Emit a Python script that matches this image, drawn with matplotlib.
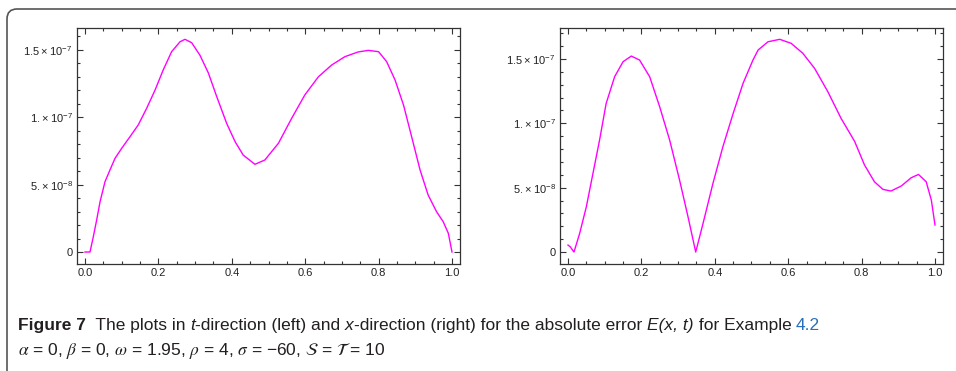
import numpy as np
import matplotlib.pyplot as plt
from matplotlib.patches import FancyBboxPatch
from matplotlib.transforms import IdentityTransform
from matplotlib.ticker import FixedLocator, FixedFormatter, MultipleLocator

# left panel: t-direction (values in units of 1e-7)
t_left = [0.0, 0.0136, 0.0227, 0.0318, 0.041, 0.0545, 0.068, 0.0817, 0.1, 0.1226,
          0.145, 0.168, 0.191, 0.213, 0.236, 0.259, 0.2725, 0.2906, 0.313, 0.336,
          0.359, 0.386, 0.409, 0.431, 0.463, 0.49, 0.527, 0.563, 0.599, 0.636,
          0.672, 0.708, 0.744, 0.772, 0.8, 0.822, 0.845, 0.868, 0.89, 0.913,
          0.935, 0.958, 0.976, 0.99, 1.0]
e_left = [0.0, 0.0, 0.114, 0.238, 0.373, 0.522, 0.609, 0.695, 0.77, 0.856,
          0.943, 1.067, 1.203, 1.351, 1.487, 1.561, 1.579, 1.554, 1.462, 1.33,
          1.153, 0.955, 0.819, 0.72, 0.651, 0.683, 0.807, 0.992, 1.166, 1.301,
          1.388, 1.45, 1.485, 1.497, 1.487, 1.413, 1.276, 1.09, 0.856, 0.609,
          0.423, 0.299, 0.225, 0.139, 0.0]

# right panel: x-direction (values in units of 1e-7)
x_right = [0.0, 0.006, 0.0163, 0.0318, 0.05, 0.068, 0.086, 0.104, 0.127, 0.15,
           0.1725, 0.195, 0.2226, 0.25, 0.277, 0.304, 0.327, 0.348, 0.368, 0.395,
           0.422, 0.45, 0.477, 0.504, 0.518, 0.545, 0.577, 0.608, 0.64, 0.672,
           0.708, 0.744, 0.781, 0.808, 0.835, 0.858, 0.88, 0.908, 0.935, 0.955,
           0.976, 0.99, 1.0]
e_right = [0.054, 0.041, 0.0, 0.145, 0.352, 0.611, 0.87, 1.155, 1.362, 1.479,
           1.523, 1.492, 1.362, 1.127, 0.87, 0.559, 0.274, 0.0, 0.223, 0.534,
           0.818, 1.077, 1.311, 1.492, 1.57, 1.634, 1.653, 1.622, 1.544, 1.427,
           1.246, 1.039, 0.86, 0.676, 0.546, 0.487, 0.474, 0.513, 0.577, 0.603,
           0.546, 0.404, 0.21]

y_ticks = [0.0, 0.5e-7, 1.0e-7, 1.5e-7]
y_labels = ["0", "5.\u2009\u00d7\u200910$^{-8}$", "1.\u2009\u00d7\u200910$^{-7}$",
            "1.5\u2009\u00d7\u200910$^{-7}$"]
x_ticks = [0.0, 0.2, 0.4, 0.6, 0.8, 1.0]
x_labels = ["0.0", "0.2", "0.4", "0.6", "0.8", "1.0"]

plt.rcParams['font.family'] = ['Liberation Sans', 'DejaVu Sans']
plt.rcParams['mathtext.fontset'] = 'custom'
plt.rcParams['mathtext.rm'] = 'Liberation Sans'
plt.rcParams['mathtext.it'] = 'Liberation Sans:italic'

fig = plt.figure(figsize=(9.56, 3.71), dpi=100)

# rounded frame around the figure block (pixel coords)
frame = FancyBboxPatch((7, -40), 1100, 371 - 9 + 40,
                       boxstyle="round,pad=0,rounding_size=10",
                       transform=IdentityTransform(), fill=False,
                       edgecolor="#555555", lw=1.2)
fig.patches.append(frame)

panels = [
    (77 / 956, t_left, e_left, (-0.089e-7, 1.663e-7)),
    (560 / 956, x_right, e_right, (-0.093e-7, 1.741e-7)),
]
for x0, xs, ys, ylim in panels:
    ax = fig.add_axes([x0, 107 / 371, 383 / 956, 236 / 371])
    ax.plot(xs, np.array(ys) * 1e-7, color="#ff00ff", lw=1.0)
    ax.set_xlim(-0.0218, 1.0218)
    ax.set_ylim(*ylim)
    ax.xaxis.set_major_locator(FixedLocator(x_ticks))
    ax.xaxis.set_major_formatter(FixedFormatter(x_labels))
    ax.xaxis.set_minor_locator(MultipleLocator(0.05))
    ax.yaxis.set_major_locator(FixedLocator(y_ticks))
    ax.yaxis.set_major_formatter(FixedFormatter(y_labels))
    ax.yaxis.set_minor_locator(MultipleLocator(1e-8))
    ax.tick_params(which="both", direction="in", top=True, right=True,
                   color="#333333", labelcolor="#222222", labelsize=8, width=0.8)
    ax.tick_params(which="major", length=4, pad=3)
    ax.tick_params(which="minor", length=2)
    for s in ax.spines.values():
        s.set_color("#333333")
        s.set_linewidth(0.9)

# caption, built piece by piece
pieces = [
    ("Figure 7", dict(weight="bold")),
    ("  The plots in ", {}),
    ("t", dict(style="italic")),
    ("-direction (left) and ", {}),
    ("x", dict(style="italic")),
    ("-direction (right) for the absolute error ", {}),
    ("E(x, t)", dict(style="italic")),
    (" for Example ", {}),
    ("4.2", dict(color="#2a6ebb")),
]
renderer = fig.canvas.get_renderer()
xpos = 18
for txt, kw in pieces:
    kw.setdefault("color", "#231f20")
    t = fig.text(xpos / 956, 1 - 330 / 371, txt, fontsize=12.5,
                 va="baseline", ha="left", **kw)
    xpos = t.get_window_extent(renderer).x1

fig.text(18 / 956, 1 - 355 / 371,
         r"$\alpha$ = 0, $\beta$ = 0, $\omega$ = 1.95, $\rho$ = 4, $\sigma$ = −60, "
         r"$\mathcal{S}$ = $\mathcal{T}$ = 10",
         fontsize=12.5, color="#231f20", va="baseline", ha="left",
         math_fontfamily="stix")

fig.savefig("out.png", dpi=100)
